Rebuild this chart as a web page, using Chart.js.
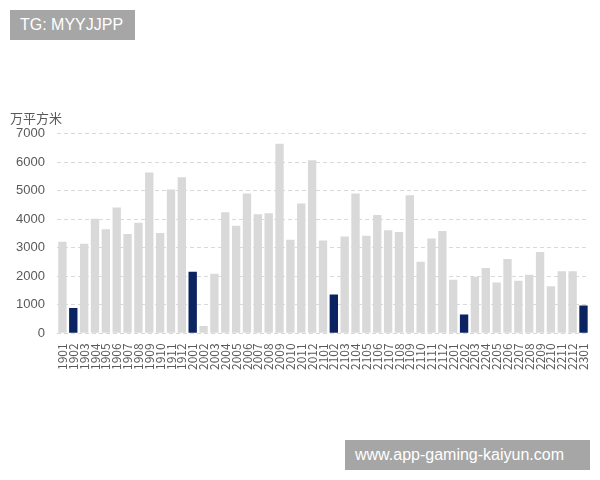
<!DOCTYPE html>
<html>
<head>
<meta charset="utf-8">
<script src="https://cdn.jsdelivr.net/npm/chart.js@4"></script>
<style>
    body { margin: 0; width: 600px; height: 480px; background: #fff; position: relative; overflow: hidden; }
    #chart_box { position: absolute; left: 0; top: 110px; width: 600px; height: 262px; }
    .tag { position: absolute; background: #a6a6a6; color: #fff; font-family: "Liberation Sans", Arial, sans-serif; font-size: 16px; line-height: 30px; padding: 0 10px; }
    #tg { left: 10px; top: 10px; width: 105px; }
    #site { left: 345px; top: 440px; width: 225px; }
</style>
</head>
<body>
<div class="tag" id="tg">TG: MYYJJPP</div>
<div id="chart_box"><canvas id="area_chart"></canvas></div>
<div class="tag" id="site">www.app-gaming-kaiyun.com</div>
<script>
var months = [
    "1901", "1902", "1903", "1904", "1905", "1906", "1907", "1908", "1909", "1910", "1911", "1912",
    "2001", "2002", "2003", "2004", "2005", "2006", "2007", "2008", "2009", "2010", "2011", "2012",
    "2101", "2102", "2103", "2104", "2105", "2106", "2107", "2108", "2109", "2110", "2111", "2112",
    "2201", "2202", "2203", "2204", "2205", "2206", "2207", "2208", "2209", "2210", "2211", "2212",
    "2301"
];

var areaValues = [
    3210, 890, 3140, 4020, 3650, 4410, 3480, 3880, 5640, 3520, 5040, 5470,
    2160, 260, 2090, 4240, 3770, 4900, 4170, 4210, 6640, 3280, 4550, 6070,
    3250, 1360, 3390, 4900, 3420, 4150, 3610, 3550, 4840, 2510, 3320, 3590,
    1880, 660, 1980, 2290, 1780, 2610, 1840, 2050, 2850, 1650, 2180, 2180,
    980
];

// highlighted months (dark bars)
var highlightMonths = ["1902", "2001", "2102", "2202", "2301"];

var yTicks = [0, 1000, 2000, 3000, 4000, 5000, 6000, 7000];
var unitLabel = "万平方米";

var barColors = months.map(function (m) {
    return highlightMonths.indexOf(m) >= 0 ? "#0b2461" : "#d9d9d9";
});

const chartElement = document.getElementById("area_chart");

const areaChart = new Chart(chartElement, {
    type: "bar",
    data: {
        labels: months,
        datasets: [{
            data: areaValues,
            backgroundColor: barColors,
            borderWidth: 0,
            barPercentage: 0.77,
            categoryPercentage: 1
        }]
    },
    options: {
        responsive: true,
        maintainAspectRatio: false,
        animation: false,
        layout: {
            padding: { left: 10, right: 11, top: 0, bottom: 0 }
        },
        scales: {
            y: {
                min: yTicks[0],
                max: yTicks[yTicks.length - 1],
                afterBuildTicks: function (axis) {
                    axis.ticks = yTicks.map(function (v) { return { value: v }; });
                },
                afterFit: function (axis) {
                    axis.width = 47;
                },
                grid: {
                    color: "#d9d9d9",
                    drawTicks: false
                },
                border: { display: false, dash: [4, 3] },
                ticks: {
                    padding: 12,
                    color: "#595959",
                    font: { family: "Liberation Sans", size: 13 },
                    callback: function (v) { return String(v); }
                }
            },
            x: {
                grid: { display: false },
                border: { display: false },
                ticks: {
                    autoSkip: false,
                    minRotation: 90,
                    maxRotation: 90,
                    padding: 2,
                    color: "#595959",
                    font: { family: "Noto Sans CJK SC", size: 12 }
                }
            }
        },
        plugins: {
            legend: { display: false },
            tooltip: { enabled: false },
            title: {
                display: true,
                text: unitLabel,
                align: "start",
                color: "#595959",
                padding: { top: 0, bottom: 8 },
                font: { family: "Noto Sans CJK SC", size: 13, weight: "normal" }
            }
        }
    }
});
</script>
</body>
</html>
